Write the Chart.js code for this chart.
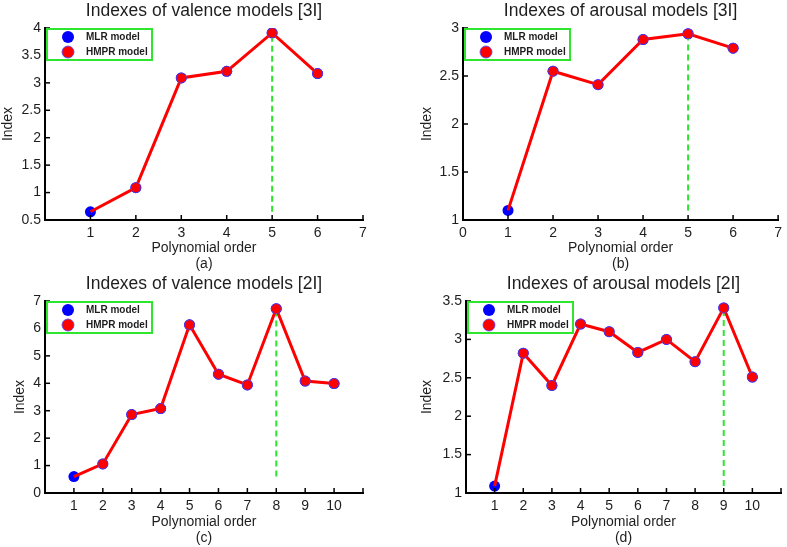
<!DOCTYPE html>
<html>
<head>
<meta charset="utf-8">
<script src="https://cdn.jsdelivr.net/npm/chart.js@4.4.1/dist/chart.umd.min.js"></script>
<style>
  html, body { margin: 0; padding: 0; background: #fff; }
  #wrap { position: relative; width: 787px; height: 547px; overflow: hidden; background: #fff; }
  canvas { position: absolute; }
</style>
</head>
<body>
<div id="wrap">
  <canvas id="ca" width="393" height="273" style="left:0;top:0"></canvas>
  <canvas id="cb" width="394" height="273" style="left:393px;top:0"></canvas>
  <canvas id="cc" width="393" height="274" style="left:0;top:273px"></canvas>
  <canvas id="cd" width="394" height="274" style="left:393px;top:273px"></canvas>
</div>
<script>
// ---- data ----
const seriesNames = ["MLR model", "HMPR model"];

const titleA = "Indexes of valence models [3I]";
const ordersA = [1, 2, 3, 4, 5, 6];
const mlrA = [0.65, 1.09, 3.09, 3.21, 3.91, 3.17];
const hmprA = [0.65, 1.09, 3.09, 3.21, 3.91, 3.17];

const titleB = "Indexes of arousal models [3I]";
const ordersB = [1, 2, 3, 4, 5, 6];
const mlrB = [1.10, 2.55, 2.41, 2.88, 2.94, 2.79];
const hmprB = [1.10, 2.55, 2.41, 2.88, 2.94, 2.79];

const titleC = "Indexes of valence models [2I]";
const ordersC = [1, 2, 3, 4, 5, 6, 7, 8, 9, 10];
const mlrC = [0.60, 1.06, 2.86, 3.08, 6.13, 4.33, 3.94, 6.72, 4.08, 3.99];
const hmprC = [0.60, 1.06, 2.86, 3.08, 6.13, 4.33, 3.94, 6.72, 4.08, 3.99];

const titleD = "Indexes of arousal models [2I]";
const ordersD = [1, 2, 3, 4, 5, 6, 7, 8, 9, 10];
const mlrD = [1.09, 2.82, 2.40, 3.20, 3.10, 2.83, 3.00, 2.71, 3.41, 2.51];
const hmprD = [1.09, 2.82, 2.40, 3.20, 3.10, 2.83, 3.00, 2.71, 3.41, 2.51];

const xLabel = "Polynomial order";
const yLabel = "Index";

// ---- styling ----
const FONT = '"Liberation Sans", Arial, Helvetica, sans-serif';
const TXT = '#1e1e1e';
const GREEN = '#2ee62e';
const RED = '#ff0000';
const BLUE = '#0000ff';

const fmt = (v) => String(Math.round(v * 100) / 100);

const panelPlugin = {
  id: 'panelDeco',
  afterDatasetsDraw(chart) {
    const o = chart.options.plugins.panelDeco;
    const ctx = chart.ctx;
    const a = chart.chartArea;
    const xs = chart.scales.x, ys = chart.scales.y;
    ctx.save();
    // inward ticks
    ctx.strokeStyle = '#000';
    ctx.lineWidth = 1.5;
    xs.ticks.forEach(t => {
      const px = xs.getPixelForValue(t.value);
      ctx.beginPath(); ctx.moveTo(px, a.bottom); ctx.lineTo(px, a.bottom - 5); ctx.stroke();
    });
    ys.ticks.forEach(t => {
      const py = ys.getPixelForValue(t.value);
      ctx.beginPath(); ctx.moveTo(a.left, py); ctx.lineTo(a.left + 5, py); ctx.stroke();
    });
    // legend box
    const bx = a.left + 2, by = a.top + 1, bw = 105, bh = 31;
    ctx.fillStyle = '#fff';
    ctx.fillRect(bx, by, bw, bh);
    ctx.strokeStyle = GREEN;
    ctx.lineWidth = 2;
    ctx.strokeRect(bx, by, bw, bh);
    const ds = chart.data.datasets;
    const entries = [ds[0], ds[1]];
    entries.forEach((d, i) => {
      const cy = by + 8 + i * 15;
      ctx.beginPath();
      ctx.arc(bx + 21, cy, 6, 0, Math.PI * 2);
      ctx.fillStyle = d.pointBackgroundColor;
      ctx.fill();
      if (i === 1) { ctx.strokeStyle = 'rgba(70,70,255,0.8)'; ctx.lineWidth = 1; ctx.stroke(); }
      ctx.fillStyle = TXT;
      ctx.font = 'bold 10px ' + FONT;
      ctx.textBaseline = 'middle';
      ctx.textAlign = 'left';
      ctx.fillText(d.label, bx + 39, cy + 0.5);
    });
    // title
    ctx.fillStyle = TXT;
    ctx.font = '17.5px ' + FONT;
    ctx.textAlign = 'center';
    ctx.textBaseline = 'middle';
    ctx.fillText(o.title, (a.left + a.right) / 2, 11);
    ctx.restore();
  }
};

function makePanel(id, title, orders, mlr, hmpr, opt) {
  const toPts = (vals) => vals.map((v, i) => ({ x: orders[i], y: v }));
  let iMax = 0;
  mlr.forEach((v, i) => { if (v > mlr[iMax]) iMax = i; });
  const vmin = Math.min(...mlr);
  const dashPts = [{ x: orders[iMax], y: vmin }, { x: orders[iMax], y: mlr[iMax] }];
  const canvas = document.getElementById(id);
  const H = canvas.height;
  new Chart(canvas, {
    type: 'line',
    data: {
      datasets: [
        {
          label: seriesNames[0], data: toPts(mlr), showLine: false, order: 2,
          pointRadius: 5.5, pointBackgroundColor: BLUE, pointBorderColor: BLUE, pointBorderWidth: 0,
          borderColor: BLUE, backgroundColor: BLUE
        },
        {
          label: seriesNames[1], data: toPts(hmpr), order: 0,
          borderColor: RED, borderWidth: 3, tension: 0, fill: false,
          pointRadius: (c) => c.dataIndex === 0 ? 0 : 5,
          pointBackgroundColor: RED, pointBorderColor: 'rgba(70,70,255,0.75)', pointBorderWidth: 1
        },
        {
          label: 'max', data: dashPts, order: 1,
          borderColor: GREEN, borderWidth: 2, borderDash: [6, 4], pointRadius: 0, fill: false
        }
      ]
    },
    options: {
      responsive: false,
      animation: false,
      devicePixelRatio: 1,
      layout: { padding: { left: opt.padLeft, top: 28, right: opt.padRight, bottom: 0 } },
      plugins: {
        legend: { display: false },
        tooltip: { enabled: false },
        panelDeco: { title: title }
      },
      scales: {
        x: {
          type: 'linear', min: opt.xMin, max: opt.xMax,
          grid: { display: false, drawTicks: false },
          border: { display: true, color: '#000', width: 2 },
          ticks: {
            stepSize: 1, padding: 5, color: TXT, font: { family: FONT, size: 14 },
            autoSkip: false, maxRotation: 0,
            callback: (v) => (opt.hideX.includes(v) ? '' : fmt(v))
          },
          title: { display: true, text: [xLabel, opt.tag], color: TXT, font: { family: FONT, size: 14 }, padding: 0 },
          afterFit: (s) => { s.height = H - opt.areaBottom; }
        },
        y: {
          type: 'linear', min: opt.yMin, max: opt.yMax,
          grid: { display: false, drawTicks: false },
          border: { display: true, color: '#000', width: 2 },
          ticks: { stepSize: opt.yStep, padding: 4, color: TXT, font: { family: FONT, size: 14 }, callback: (v) => fmt(v) },
          title: { display: true, text: yLabel, color: TXT, font: { family: FONT, size: 14 }, padding: 0 },
          afterFit: (s) => { s.width = opt.areaLeft - opt.padLeft; }
        }
      }
    },
    plugins: [panelPlugin]
  });
}

makePanel('ca', titleA, ordersA, mlrA, hmprA, {
  padLeft: 0, padRight: 30, areaLeft: 45, areaBottom: 220,
  xMin: 0, xMax: 7, hideX: [0], yMin: 0.5, yMax: 4, yStep: 0.5, tag: '(a)'
});
makePanel('cb', titleB, ordersB, mlrB, hmprB, {
  padLeft: 26, padRight: 4, areaLeft: 70, areaBottom: 220,
  xMin: 0, xMax: 7, hideX: [], yMin: 1, yMax: 3, yStep: 0.5, tag: '(b)'
});
makePanel('cc', titleC, ordersC, mlrC, hmprC, {
  padLeft: 12, padRight: 30, areaLeft: 45, areaBottom: 220,
  xMin: 0, xMax: 11, hideX: [0, 11], yMin: 0, yMax: 7, yStep: 1, tag: '(c)'
});
makePanel('cd', titleD, ordersD, mlrD, hmprD, {
  padLeft: 26, padRight: 4, areaLeft: 73, areaBottom: 220,
  xMin: 0, xMax: 11, hideX: [0, 11], yMin: 1, yMax: 3.5, yStep: 0.5, tag: '(d)'
});
</script>
</body>
</html>
